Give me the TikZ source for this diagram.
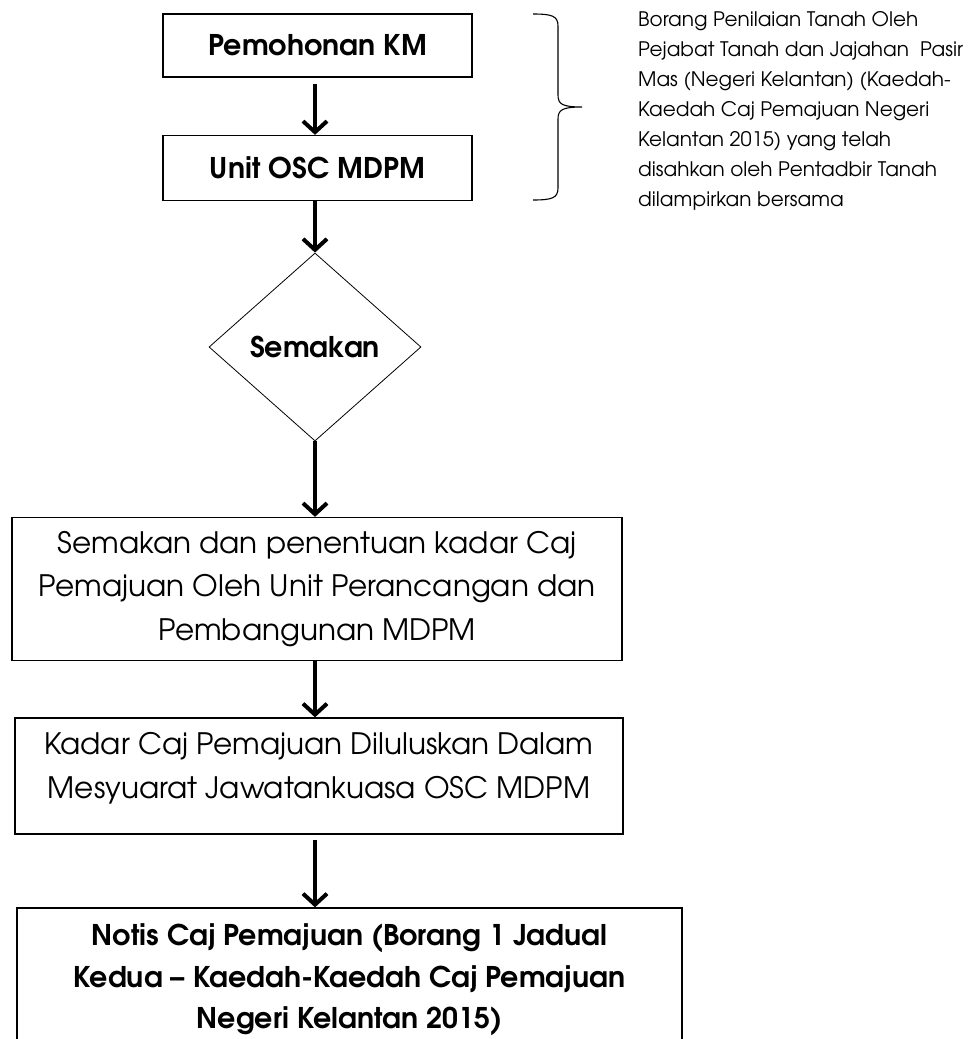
\documentclass[tikz,border=0pt]{standalone}
\usepackage{fontspec}
\setmainfont{TeX Gyre Adventor}
\usetikzlibrary{shapes.geometric,arrows.meta}
\begin{document}
\begin{tikzpicture}[x=1pt,y=-1pt,
  box/.style={draw, line width=1.3pt, inner sep=0pt, align=center},
  regtext/.style={inner sep=0pt, align=center, font=\fontsize{29.5}{43.5}\selectfont},
  boldtext/.style={inner sep=0pt, align=center, font=\fontsize{28.5}{41.5}\selectfont\bfseries},
  arr/.style={line width=4pt, -{Straight Barb[length=11pt,width=24pt]}},
]
\useasboundingbox (0,0) rectangle (968,1039);

% boxes
\node[box, minimum width=309pt, minimum height=63pt, boldtext] (b1) at (317.5,45.5) {Pemohonan KM};
\node[box, minimum width=309pt, minimum height=65pt, boldtext] (b2) at (317.5,168) {Unit OSC MDPM};
\node[draw, line width=0.8pt, shape=diamond, inner sep=0pt, minimum width=212pt, minimum height=188pt, boldtext] (d) at (315,347) {Semakan};
\node[box, minimum width=610pt, minimum height=143pt, regtext] (b3) at (317,589)
  {Semakan dan penentuan kadar Caj\\Pemajuan Oleh Unit Perancangan dan\\Pembangunan MDPM};
\node[box, minimum width=608pt, minimum height=116pt] (b4) at (319,776) {};
\node[regtext] (t4) at (319,768) {Kadar Caj Pemajuan Diluluskan Dalam\\Mesyuarat Jawatankuasa OSC MDPM};
\node[box, minimum width=665pt, minimum height=160pt] (b5) at (349.5,988) {};
\node[boldtext] (t5) at (349.5,980) {Notis Caj Pemajuan (Borang 1 Jadual\\Kedua -- Kaedah-Kaedah Caj Pemajuan\\Negeri Kelantan 2015)};

% arrows
\draw[arr, shorten <=6pt] (b1.south -| d.north) -- (b2.north -| d.north);
\draw[arr] (b2.south -| d.north) -- (d.north);
\draw[arr] (d.south) -- (b3.north -| d.south);
\draw[arr] (b3.south -| d.south) -- (b4.north -| d.south);
\draw[arr, shorten <=5pt] (b4.south -| d.south) -- (b5.north -| d.south);

% brace
\coordinate (bt) at (533,14);
\coordinate (bb) at (533,200);
\coordinate (btip) at (582,107);
\draw[line width=1.1pt] (bt) .. controls (552,14) and (558,16) .. (558,26)
  -- (558,95) .. controls (558,104) and (562,107) .. (btip)
  .. controls (562,107) and (558,110) .. (558,119)
  -- (558,188) .. controls (558,198) and (552,200) .. (bb);

% side note
\node[anchor=north west, inner sep=0pt, align=left, font=\fontsize{20}{30}\selectfont] (note) at (638,11)
  {Borang Penilaian Tanah Oleh\\Pejabat Tanah dan Jajahan \ Pasir\\Mas (Negeri Kelantan) (Kaedah-\\Kaedah Caj Pemajuan Negeri\\Kelantan 2015) yang telah\\disahkan oleh Pentadbir Tanah\\dilampirkan bersama};
\end{tikzpicture}
\end{document}
